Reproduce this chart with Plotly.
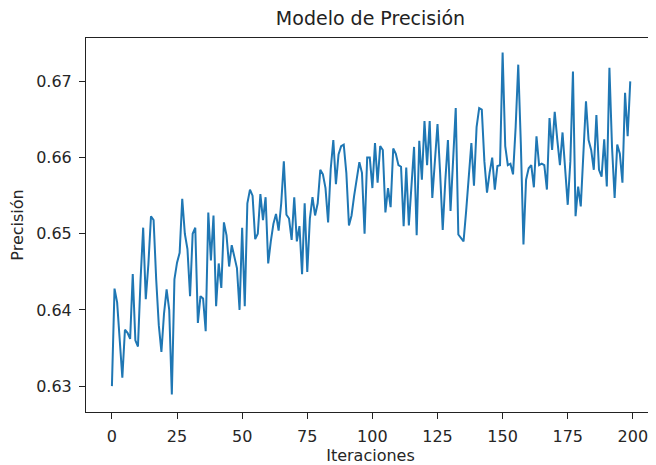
import plotly.graph_objects as go

iteraciones = list(range(200))
precision = [
    0.6300, 0.6428, 0.6410, 0.6360, 0.6311, 0.6374, 0.6370, 0.6362, 0.6447, 0.6360,
    0.6352, 0.6440, 0.6508, 0.6414, 0.6460, 0.6523, 0.6518, 0.6440, 0.6380, 0.6345,
    0.6395, 0.6427, 0.6400, 0.6289, 0.6440, 0.6462, 0.6475, 0.6546, 0.6500, 0.6480,
    0.6418, 0.6500, 0.6508, 0.6383, 0.6418, 0.6415, 0.6372, 0.6528, 0.6465, 0.6524,
    0.6405, 0.6461, 0.6429, 0.6515, 0.6498, 0.6457, 0.6485, 0.6470, 0.6455, 0.6400,
    0.6508, 0.6405, 0.6540, 0.6558, 0.6550, 0.6493, 0.6500, 0.6552, 0.6518, 0.6548,
    0.6461, 0.6490, 0.6513, 0.6526, 0.6504, 0.6540, 0.6595, 0.6525, 0.6520, 0.6492,
    0.6548, 0.6490, 0.6510, 0.6447, 0.6540, 0.6450, 0.6520, 0.6548, 0.6524, 0.6540,
    0.6584, 0.6578, 0.6560, 0.6515, 0.6585, 0.6623, 0.6565, 0.6604, 0.6615, 0.6617,
    0.6580, 0.6511, 0.6524, 0.6550, 0.6574, 0.6594, 0.6580, 0.6500, 0.6600, 0.6600,
    0.6560, 0.6619, 0.6567, 0.6615, 0.6610, 0.6528, 0.6560, 0.6535, 0.6612, 0.6605,
    0.6590, 0.6588, 0.6510, 0.6587, 0.6511, 0.6560, 0.6614, 0.6498, 0.6622, 0.6571,
    0.6648, 0.6590, 0.6648, 0.6547, 0.6600, 0.6644, 0.6580, 0.6505, 0.6570, 0.6623,
    0.6530, 0.6600, 0.6665, 0.6499, 0.6494, 0.6490, 0.6530, 0.6575, 0.6619, 0.6563,
    0.6640, 0.6665, 0.6663, 0.6595, 0.6554, 0.6580, 0.6600, 0.6558, 0.6589, 0.6590,
    0.6738, 0.6615, 0.6590, 0.6592, 0.6578, 0.6640, 0.6722, 0.6617, 0.6486, 0.6571,
    0.6586, 0.6590, 0.6561, 0.6628, 0.6590, 0.6592, 0.6590, 0.6558, 0.6652, 0.6610,
    0.6660, 0.6623, 0.6590, 0.6633, 0.6580, 0.6538, 0.6595, 0.6713, 0.6523, 0.6562,
    0.6536, 0.6600, 0.6674, 0.6623, 0.6610, 0.6584, 0.6656, 0.6584, 0.6575, 0.6624,
    0.6562, 0.6718, 0.6614, 0.6547, 0.6617, 0.6605, 0.6567, 0.6685, 0.6628, 0.6700,
]
x_ticks = [0, 25, 50, 75, 100, 125, 150, 175, 200]
y_ticks = [0.63, 0.64, 0.65, 0.66, 0.67]
y_labels = ["0.63", "0.64", "0.65", "0.66", "0.67"]

W, H = 648, 457  # page body has an 8px margin

fig = go.Figure()
fig.add_trace(go.Scatter(x=iteraciones, y=precision, mode="lines",
                         line=dict(color="#1f77b4", width=2)))

font = "DejaVu Sans, sans-serif"
axis_common = dict(showgrid=False, zeroline=False, showline=True, linecolor="#222",
                   linewidth=1, mirror=True, ticks="outside", ticklen=6,
                   tickcolor="#222", ticklabelstandoff=4,
                   tickfont=dict(family=font, size=16, color="#262626"))
fig.update_layout(
    width=W, height=H,
    margin=dict(l=78, r=1, t=30, b=53),
    paper_bgcolor="white", plot_bgcolor="white",
    showlegend=False,
    title=dict(text="Modelo de Precisión", x=0.5, xref="paper", y=1 - 10 / H,
               yref="container", xanchor="center", yanchor="middle",
               font=dict(family=font, size=19, color="#222")),
    xaxis=dict(range=[-9.95, 208.5], tickvals=x_ticks,
               title=dict(text="Iteraciones", font=dict(family=font, size=16, color="#262626"),
                          standoff=4),
               **axis_common),
    yaxis=dict(range=[0.6266, 0.6757], tickvals=y_ticks, ticktext=y_labels,
               title=dict(text="Precisión", font=dict(family=font, size=16, color="#262626"),
                          standoff=8),
               **axis_common),
)
fig.write_html("out.html")
